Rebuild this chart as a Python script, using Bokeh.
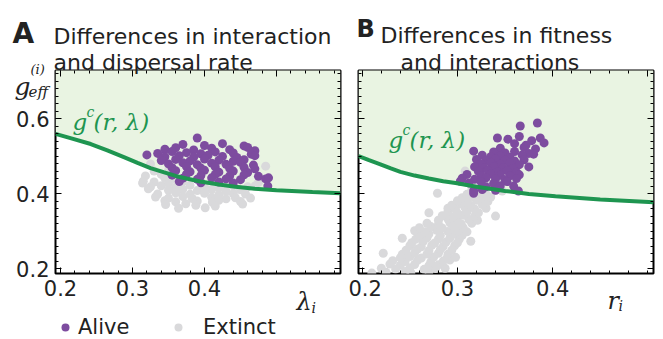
from bokeh.plotting import figure
from bokeh.models import Label, Legend, LegendItem, LinearAxis, FixedTicker, Range1d
from bokeh.layouts import row, column
from bokeh.embed import file_html
from bokeh.resources import INLINE

# ---------------- data ----------------
# Panel A: differences in interaction and dispersal rate (x = lambda_i, y = g_eff)
a_alive_x = [0.39,
             0.37, 0.40, 0.425, 0.455,
             0.345, 0.36, 0.385, 0.41, 0.435, 0.46, 0.47,
             0.335, 0.355, 0.375, 0.395, 0.415, 0.44, 0.465,
             0.32, 0.345, 0.365, 0.385, 0.405, 0.425, 0.445, 0.47,
             0.34, 0.36, 0.38, 0.40, 0.42, 0.44, 0.455,
             0.35, 0.37, 0.39, 0.41, 0.43, 0.45, 0.468,
             0.355, 0.375, 0.395, 0.415, 0.435, 0.455, 0.47,
             0.36, 0.38, 0.40, 0.42, 0.44, 0.46,
             0.355, 0.375, 0.395, 0.415, 0.435, 0.455, 0.475,
             0.37, 0.39, 0.41, 0.43, 0.45, 0.485,
             0.365, 0.395, 0.42, 0.44, 0.489,
             0.488]
a_alive_y = [0.548,
             0.531, 0.528, 0.533, 0.527,
             0.518, 0.522, 0.516, 0.521, 0.517, 0.523, 0.514,
             0.507, 0.512, 0.509, 0.506, 0.511, 0.508, 0.505,
             0.503, 0.498, 0.501, 0.497, 0.502, 0.499, 0.496, 0.501,
             0.488, 0.491, 0.487, 0.492, 0.489, 0.486, 0.49,
             0.479, 0.482, 0.477, 0.481, 0.478, 0.483, 0.476,
             0.469, 0.472, 0.468, 0.471, 0.467, 0.47, 0.466,
             0.461, 0.458, 0.462, 0.457, 0.46, 0.456,
             0.449, 0.452, 0.448, 0.451, 0.447, 0.45, 0.446,
             0.441, 0.438, 0.442, 0.439, 0.437, 0.439,
             0.432, 0.429, 0.431, 0.428, 0.442,
             0.42]
a_extinct_x = [0.325, 0.485, 0.33, 0.35, 0.318, 0.34, 0.315, 0.345, 0.36,
               0.314, 0.33, 0.35, 0.37, 0.475,
               0.325, 0.34, 0.36, 0.38, 0.40, 0.42, 0.44, 0.46, 0.47,
               0.322, 0.35, 0.37, 0.39, 0.41, 0.43, 0.45,
               0.335, 0.36, 0.38, 0.40, 0.42, 0.44, 0.457,
               0.332, 0.35, 0.37, 0.383, 0.41, 0.43, 0.443, 0.464,
               0.345, 0.36, 0.39, 0.411, 0.42, 0.45,
               0.346, 0.374, 0.388, 0.415, 0.453,
               0.364, 0.401]
a_extinct_y = [0.479, 0.473, 0.46, 0.462, 0.447, 0.451, 0.433, 0.441, 0.437,
               0.428, 0.431, 0.427, 0.432, 0.43,
               0.418, 0.421, 0.417, 0.422, 0.419, 0.416, 0.421, 0.418, 0.42,
               0.413, 0.409, 0.412, 0.408, 0.411, 0.407, 0.41,
               0.399, 0.402, 0.398, 0.401, 0.397, 0.4, 0.399,
               0.391, 0.388, 0.392, 0.387, 0.39, 0.386, 0.389, 0.388,
               0.381, 0.378, 0.38, 0.377, 0.382, 0.379,
               0.371, 0.373, 0.369, 0.367, 0.372,
               0.361, 0.362]
a_curve_x = [0.193, 0.215, 0.242, 0.265, 0.288, 0.307, 0.325, 0.343, 0.36,
             0.375, 0.394, 0.42, 0.443, 0.47, 0.5, 0.55, 0.589]
a_curve_y = [0.559, 0.547, 0.532, 0.515, 0.497, 0.482, 0.468, 0.457, 0.447,
             0.44, 0.432, 0.424, 0.418, 0.413, 0.409, 0.404, 0.401]

# Panel B: differences in fitness and interactions (x = r_i, y = g_eff)
b_alive_x = [0.384, 0.366, 0.342, 0.353, 0.387, 0.391, 0.36, 0.345, 0.382, 0.37,
             0.378, 0.372, 0.38, 0.365,
             0.317, 0.338, 0.35, 0.36, 0.375,
             0.326, 0.335, 0.345, 0.355, 0.368,
             0.32, 0.33, 0.34, 0.35, 0.36, 0.37,
             0.325, 0.335, 0.345, 0.355, 0.365,
             0.318, 0.328, 0.338, 0.348, 0.358, 0.375,
             0.322, 0.332, 0.342, 0.352, 0.362,
             0.31, 0.325, 0.335, 0.345, 0.355, 0.365,
             0.305, 0.318, 0.33, 0.34, 0.35, 0.362,
             0.303, 0.312, 0.325, 0.338, 0.352,
             0.33, 0.345, 0.359,
             0.317, 0.326, 0.34, 0.364, 0.317]
b_alive_y = [0.588, 0.58, 0.548, 0.545, 0.548, 0.535, 0.533, 0.521, 0.519, 0.523,
             0.541, 0.529, 0.505, 0.552,
             0.513, 0.511, 0.508, 0.512, 0.507,
             0.502, 0.498, 0.501, 0.497, 0.503,
             0.491, 0.488, 0.492, 0.489, 0.487, 0.49,
             0.479, 0.482, 0.478, 0.481, 0.477,
             0.471, 0.468, 0.472, 0.469, 0.467, 0.471,
             0.459, 0.462, 0.458, 0.461, 0.457,
             0.451, 0.448, 0.452, 0.449, 0.447, 0.45,
             0.441, 0.438, 0.442, 0.439, 0.437, 0.44,
             0.433, 0.428, 0.431, 0.427, 0.432,
             0.418, 0.421, 0.42,
             0.408, 0.411, 0.409, 0.407, 0.401]
b_extinct_x = [0.21, 0.225, 0.245, 0.251, 0.27,
               0.22, 0.235, 0.25, 0.265, 0.277, 0.287,
               0.229, 0.24, 0.255, 0.27, 0.28,
               0.232, 0.245, 0.258, 0.272, 0.285, 0.292,
               0.24, 0.25, 0.262, 0.275, 0.289, 0.298,
               0.222, 0.242, 0.255, 0.268, 0.28, 0.29,
               0.246, 0.258, 0.27, 0.282, 0.294,
               0.25, 0.262, 0.273, 0.285, 0.297,
               0.252, 0.264, 0.276, 0.288, 0.3, 0.314,
               0.242, 0.256, 0.268, 0.28, 0.292, 0.302,
               0.26, 0.27, 0.282, 0.295, 0.305,
               0.255, 0.266, 0.278, 0.29, 0.3, 0.31,
               0.26, 0.272, 0.284, 0.296, 0.306,
               0.268, 0.28, 0.292, 0.304, 0.315,
               0.28, 0.29, 0.3, 0.312, 0.321,
               0.284, 0.296, 0.306, 0.318, 0.34,
               0.27, 0.29, 0.3, 0.31, 0.322,
               0.29, 0.298, 0.308, 0.318, 0.33,
               0.294, 0.304, 0.314, 0.326,
               0.30, 0.31, 0.32, 0.332,
               0.305, 0.315, 0.325, 0.335,
               0.279, 0.31, 0.32, 0.33, 0.347,
               0.315, 0.325, 0.34,
               0.318, 0.332,
               0.305, 0.325,
               0.308]
b_extinct_y = [0.188, 0.19, 0.192, 0.189, 0.191,
               0.201, 0.199, 0.202, 0.198, 0.2, 0.201,
               0.212, 0.209, 0.211, 0.208, 0.21,
               0.221, 0.219, 0.222, 0.218, 0.22, 0.223,
               0.229, 0.232, 0.228, 0.231, 0.228, 0.23,
               0.241, 0.238, 0.242, 0.239, 0.241, 0.238,
               0.249, 0.252, 0.248, 0.251, 0.249,
               0.261, 0.258, 0.262, 0.259, 0.261,
               0.269, 0.272, 0.268, 0.271, 0.269, 0.273,
               0.281, 0.278, 0.282, 0.279, 0.281, 0.279,
               0.289, 0.292, 0.288, 0.291, 0.289,
               0.301, 0.298, 0.302, 0.299, 0.301, 0.298,
               0.309, 0.312, 0.308, 0.311, 0.309,
               0.321, 0.318, 0.322, 0.319, 0.321,
               0.329, 0.332, 0.328, 0.331, 0.329,
               0.341, 0.338, 0.342, 0.339, 0.34,
               0.349, 0.352, 0.348, 0.351, 0.349,
               0.361, 0.358, 0.362, 0.359, 0.361,
               0.369, 0.372, 0.368, 0.371,
               0.381, 0.378, 0.382, 0.379,
               0.389, 0.392, 0.388, 0.391,
               0.401, 0.398, 0.402, 0.399, 0.407,
               0.409, 0.412, 0.408,
               0.421, 0.418,
               0.433, 0.429,
               0.46]
b_curve_x = [0.196, 0.207, 0.219, 0.23, 0.24, 0.255, 0.27, 0.285, 0.298,
             0.32, 0.35, 0.375, 0.403, 0.45, 0.506]
b_curve_y = [0.5, 0.489, 0.478, 0.467, 0.458, 0.448, 0.44, 0.433, 0.428,
             0.418, 0.407, 0.399, 0.393, 0.384, 0.377]

y_ticks = [0.2, 0.4, 0.6]
x_ticks_labelled = [0.2, 0.3, 0.4]
x_ticks_frame = [0.2, 0.3, 0.4, 0.5]
Y_RANGE = (0.187, 0.728)
A_XRANGE = (0.193, 0.589)
B_XRANGE = (0.196, 0.506)
FILL_TOP = 0.75

# ---------------- style ----------------
PURPLE = "#7D4C9F"
GREY = "#D9D9DB"
GREEN = "#1E9550"
FILL = "#E9F4E2"
TEXT = "#222222"
SANS = "DejaVu Sans"
SERIF = "DejaVu Serif"
W, H = 663, 339
NAN = float("nan")


def style_axis(ax, show_labels):
    ax.axis_line_color = None
    ax.major_tick_in = 6
    ax.major_tick_out = 0
    ax.minor_tick_in = 3
    ax.minor_tick_out = 0
    ax.major_tick_line_color = "black"
    ax.minor_tick_line_color = "black"
    ax.major_label_text_font = SANS
    ax.major_label_standoff = 6
    if show_labels:
        ax.major_label_text_font_size = "21px"
        ax.major_label_text_color = TEXT
    else:
        ax.major_label_text_font_size = "0px"
        ax.major_label_text_color = None


def make_panel(width, left, right, xr, alive_x, alive_y, ext_x, ext_y, cx, cy, ylabels):
    p = figure(width=width, height=H, output_backend="svg", toolbar_location=None,
               x_range=Range1d(*xr), y_range=Range1d(*Y_RANGE),
               min_border_left=left, min_border_right=right, min_border_top=70,
               min_border_bottom=66, x_axis_location=None, y_axis_location=None)
    p.grid.visible = False
    p.outline_line_color = "black"
    p.outline_line_width = 2
    p.varea(x=cx, y1=cy, y2=[FILL_TOP] * len(cx), fill_color=FILL)
    p.scatter(ext_x, ext_y, size=9, fill_color=GREY, line_color=None)
    p.scatter(alive_x, alive_y, size=9, fill_color=PURPLE, line_color=None)
    p.line(cx, cy, line_color=GREEN, line_width=4)

    minor = [round(0.18 + 0.02 * i, 2) for i in range(30)]
    xt_lab = FixedTicker(ticks=x_ticks_labelled, minor_ticks=minor)
    xt = FixedTicker(ticks=x_ticks_frame, minor_ticks=minor)
    yt = FixedTicker(ticks=y_ticks, minor_ticks=minor)
    for loc, ticker, labels in (("below", xt_lab, True), ("above", xt, False),
                                ("left", yt, ylabels), ("right", yt, False)):
        ax = LinearAxis(ticker=ticker)
        style_axis(ax, labels)
        p.add_layout(ax, loc)
    return p


pA = make_panel(348, 55, 8, A_XRANGE, a_alive_x, a_alive_y,
                a_extinct_x, a_extinct_y, a_curve_x, a_curve_y, True)
pB = make_panel(315, 10, 10, B_XRANGE, b_alive_x, b_alive_y,
                b_extinct_x, b_extinct_y, b_curve_x, b_curve_y, False)

# transparent overlay covering the whole page, for texts outside the frames
ov = figure(width=W, height=H, output_backend="svg", toolbar_location=None,
            x_range=Range1d(0, 1), y_range=Range1d(0, 1), min_border=0,
            x_axis_location=None, y_axis_location=None, margin=(-H, 0, 0, 0))
ov.grid.visible = False
ov.outline_line_color = None
ov.background_fill_alpha = 0
ov.border_fill_alpha = 0


def lab(text, x, y, size, font=SANS, color=TEXT, style="normal"):
    ov.add_layout(Label(x=x, y=y, x_units="canvas", y_units="canvas", text=text,
                        text_font=font, text_font_size=size, text_color=color,
                        text_font_style=style, text_align="left",
                        text_baseline="alphabetic"))


# titles
lab("A", 12, 33, "28px", style="bold")
lab("Differences in interaction", 53, 36, "22px")
lab("and dispersal rate", 53, 62, "22px")
lab("B", 356, 28, "24px", style="bold")
lab("Differences in fitness", 380, 35, "22px")
lab("and interactions", 400, 62, "22px")

# y label g_eff^(i)
lab("g", 14, 86, "25px", font=SERIF, style="italic")
lab("eff", 28, 91, "15px", font=SERIF, style="italic")
lab("(i)", 30, 69, "13px", font=SERIF, style="italic")

# x labels
lab("λ", 296, 301, "24px", font=SERIF, style="italic")
lab("i", 311, 307, "14px", font=SERIF, style="italic")
lab("r", 607, 300, "24px", font=SERIF, style="italic")
lab("i", 618, 305, "14px", font=SERIF, style="italic")

# curve labels g^c(r, λ)
for x0, y0 in ((72, 121), (388, 139)):
    lab("g", x0, y0, "23px", font=SERIF, color=GREEN, style="italic")
    lab("c", x0 + 14, y0 - 10, "14px", font=SERIF, color=GREEN, style="italic")
    lab("(r, λ)", x0 + 21, y0, "23px", font=SERIF, color=GREEN, style="italic")

# legend keys (one undrawable NaN point each, so only the key is shown)
key_alive = ov.scatter(x=[NAN], y=[NAN], size=9, fill_color=PURPLE, line_color=None)
key_ext = ov.scatter(x=[NAN], y=[NAN], size=9, fill_color=GREY, line_color=None)
for item, x0, standoff in ((LegendItem(label="Alive", renderers=[key_alive]), 55, 3),
                           (LegendItem(label="Extinct", renderers=[key_ext]), 168, 15)):
    lg = Legend(items=[item], location=(x0, 0), orientation="horizontal",
                label_text_font=SANS, label_text_font_size="21px",
                label_text_color=TEXT, glyph_width=20, glyph_height=20,
                label_standoff=standoff, padding=0, margin=0, spacing=0,
                background_fill_alpha=0, border_line_color=None)
    ov.add_layout(lg, "center")

layout = column(row(pA, pB), ov)
open("out.html", "w").write(file_html(layout, INLINE))
